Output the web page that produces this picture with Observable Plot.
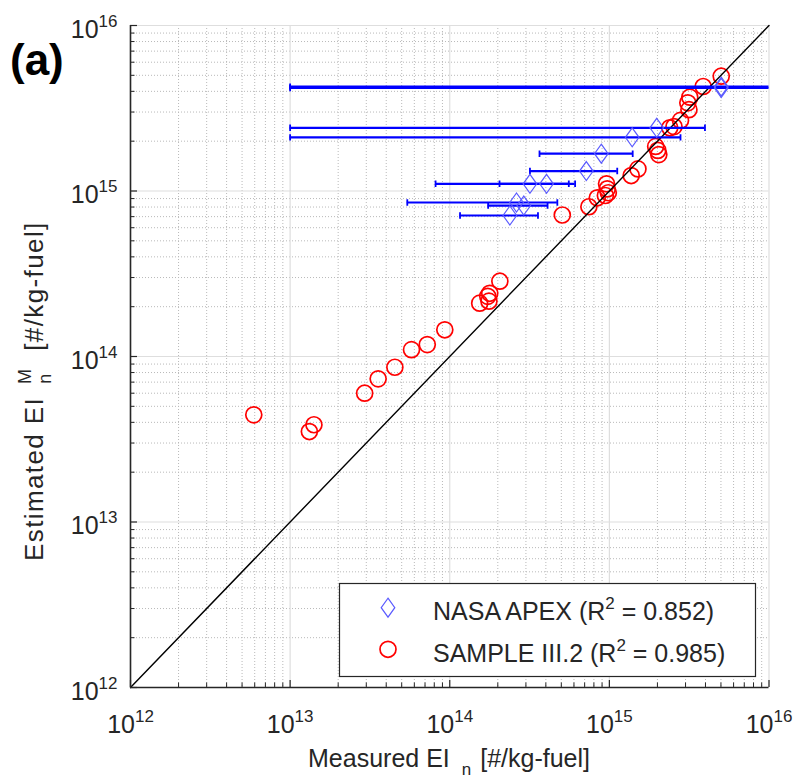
<!DOCTYPE html>
<html><head><meta charset="utf-8">
<script src="https://cdn.jsdelivr.net/npm/d3@7"></script>
<script src="https://cdn.jsdelivr.net/npm/@observablehq/plot@0.6"></script>
<style>
body{margin:0;background:#fff;}
#chart{width:798px;height:780px;}
</style></head><body><div id="chart"></div>
<script>
// ---- data ----
const sampleMeasured = [5.02e15, 3.87e15, 3.19e15, 3.10e15, 3.15e15, 2.79e15, 2.54e15, 2.39e15, 1.95e15, 2.01e15, 2.04e15, 1.51e15, 1.37e15, 9.6e14, 9.7e14, 9.85e14, 9.44e14, 8.4e14, 7.44e14, 5.07e14, 2.06e14, 1.78e14, 1.73e14, 1.76e14, 1.54e14, 9.31e13, 7.23e13, 5.76e13, 4.53e13, 3.56e13, 2.93e13, 5.92e12, 1.41e13, 1.32e13];
const sampleEstimated = [4.94e15, 4.28e15, 3.69e15, 3.41e15, 3.10e15, 2.67e15, 2.45e15, 2.41e15, 1.86e15, 1.76e15, 1.66e15, 1.36e15, 1.24e15, 1.105e15, 1.03e15, 9.76e14, 9.39e14, 9.1e14, 8.03e14, 7.16e14, 2.85e14, 2.41e14, 2.31e14, 2.16e14, 2.10e14, 1.45e14, 1.18e14, 1.10e14, 8.61e13, 7.33e13, 6.0e13, 4.44e13, 3.87e13, 3.52e13];
const apexMeasured = [5.02e15, 5.02e15, 1.98e15, 1.39e15, 8.9e14, 7.17e14, 3.18e14, 4.04e14, 2.62e14, 2.91e14, 2.38e14];
const apexEstimated = [4.27e15, 4.19e15, 2.41e15, 2.11e15, 1.68e15, 1.32e15, 1.105e15, 1.105e15, 8.52e14, 8.17e14, 7.11e14];
const apexLow = [1e13, 1e13, 1e13, 1e13, 3.65e14, 3.18e14, 8.15e13, 2.05e14, 5.42e13, 1.74e14, 1.16e14];
const apexHigh = [3e16, 3e16, 3.97e15, 2.79e15, 1.40e15, 1.12e15, 5.57e14, 6.1e14, 4.72e14, 4.10e14, 3.57e14];
const tickExponents = [12, 13, 14, 15, 16];
const identityLine = [1e12, 1e16];
const seriesNames = ["NASA APEX", "SAMPLE III.2"];
const seriesR2 = ["0.852", "0.985"];
const xTitle = ["Measured EI", "n", " [#/kg-fuel]"];
const yTitle = ["Estimated EI", "n", "M", " [#/kg-fuel]"];
const panelLabel = "(a)";

// ---- derived tables ----
const majorTicks = tickExponents.map(e => Math.pow(10, e));
const minorTicks = [];
for (const e of tickExponents.slice(0, -1)) for (let m = 2; m <= 9; m++) minorTicks.push(m * Math.pow(10, e));
const sample = sampleMeasured.map((x, i) => ({x, y: sampleEstimated[i]}));
const apex = apexMeasured.map((x, i) => ({x, y: apexEstimated[i], lo: apexLow[i], hi: apexHigh[i]}));
const caps = apex.flatMap(d => [{x: d.lo, y: d.y}, {x: d.hi, y: d.y}]);
const diag = identityLine.map(v => ({x: v, y: v}));

const diamond = {draw(c) { c.moveTo(0, -9.5); c.lineTo(6.8, 0); c.lineTo(0, 9.5); c.lineTo(-6.8, 0); c.closePath(); }};
const capSym = {draw(c) { c.moveTo(0, -3.2); c.lineTo(0, 3.2); }};

const W = 798, H = 780, mL = 130, mR = 29.5, mT = 25, mB = 93;
const fw = W - mL - mR, fh = H - mT - mB;
const dark = "#262626";

const chart = Plot.plot({
  width: W, height: H,
  marginLeft: mL, marginRight: mR, marginTop: mT, marginBottom: mB,
  style: {fontFamily: '"Liberation Sans", Arial, Helvetica, sans-serif', color: dark, background: "white", overflow: "visible"},
  x: {type: "log", domain: [1e12, 1e16], label: null},
  y: {type: "log", domain: [1e12, 1e16], label: null},
  marks: [
    Plot.ruleX(minorTicks, {stroke: "#b9b9b9", strokeDasharray: "1,2", strokeWidth: 1}),
    Plot.ruleY(minorTicks, {stroke: "#b9b9b9", strokeDasharray: "1,2", strokeWidth: 1}),
    Plot.ruleX(majorTicks, {stroke: "#dedede", strokeWidth: 1.2}),
    Plot.ruleY(majorTicks, {stroke: "#dedede", strokeWidth: 1.2}),
    Plot.dot(sample, {x: "x", y: "y", r: 8, stroke: "#ff0000", strokeWidth: 1.7, fill: "none"}),
    Plot.line(diag, {x: "x", y: "y", stroke: "#000000", strokeWidth: 1.4}),
    Plot.ruleY(apex, {y: "y", x1: "lo", x2: "hi", stroke: "#0000ff", strokeWidth: 2.2, clip: true}),
    Plot.dot(caps, {x: "x", y: "y", symbol: capSym, stroke: "#0000ff", strokeWidth: 1.8, clip: true}),
    Plot.dot(apex, {x: "x", y: "y", symbol: diamond, stroke: "#5a5aff", strokeWidth: 1.2, fill: "none"}),
    // axes lines and inward ticks
    Plot.ruleX(majorTicks, {insetTop: fh - 7, stroke: dark, strokeWidth: 1.2}),
    Plot.ruleX(minorTicks, {insetTop: fh - 4.5, stroke: dark, strokeWidth: 1}),
    Plot.ruleY(majorTicks, {insetRight: fw - 7, stroke: dark, strokeWidth: 1.2}),
    Plot.ruleY(minorTicks, {insetRight: fw - 4.5, stroke: dark, strokeWidth: 1}),
    Plot.ruleX([1e12], {stroke: dark, strokeWidth: 1.6}),
    Plot.ruleY([1e12], {stroke: dark, strokeWidth: 1.6}),
    Plot.axisX(majorTicks, {tickSize: 0, tickPadding: 28, fontSize: 25, tickFormat: d => String(Math.round(Math.log10(d)))}),
    Plot.axisY(majorTicks, {tickSize: 0, tickPadding: 13, dy: 4, fontSize: 25, tickFormat: d => String(Math.round(Math.log10(d)))})
  ]
});
document.getElementById("chart").append(chart);
const svg = d3.select(chart);

// superscripted tick labels 10^k
svg.selectAll('g[aria-label="x-axis tick label"] text, g[aria-label="y-axis tick label"] text').each(function() {
  const t = d3.select(this); const e = this.textContent; t.text(null);
  t.append("tspan").text("10");
  t.append("tspan").attr("font-size", 17).attr("dy", -11).text(e);
});

// axis titles
const xt = svg.append("text").attr("x", 449).attr("y", 767).attr("text-anchor", "middle")
  .attr("font-size", 25).attr("fill", dark);
xt.append("tspan").text(xTitle[0]);
xt.append("tspan").attr("font-size", 17).attr("dx", 12).attr("dy", 8).text(xTitle[1]);
xt.append("tspan").attr("dx", 2).attr("dy", -8).text(xTitle[2]);

const yt = svg.append("text").attr("transform", "translate(43,561) rotate(-90)").attr("text-anchor", "start")
  .attr("font-size", 26).attr("letter-spacing", 1.4).attr("fill", dark);
yt.append("tspan").text(yTitle[0]);
yt.append("tspan").attr("font-size", 18).attr("dx", 13).attr("dy", 8).text(yTitle[1]);
yt.append("tspan").attr("font-size", 18).attr("dx", -11.5).attr("dy", -20).text(yTitle[2]);
yt.append("tspan").attr("dx", 8).attr("dy", 12).text(yTitle[3]);

// panel label
svg.append("text").attr("x", 10).attr("y", 75).attr("text-anchor", "start").attr("font-size", 44).attr("font-weight", "bold")
  .attr("fill", "#000").text(panelLabel);

// legend
const lg = svg.append("g").attr("text-anchor", "start");
lg.append("rect").attr("x", 339.5).attr("y", 583.5).attr("width", 416).attr("height", 93)
  .attr("fill", "white").attr("stroke", dark).attr("stroke-width", 1.2);
lg.append("path").attr("transform", "translate(388,607.7)").attr("d", d3.symbol(diamond)())
  .attr("fill", "none").attr("stroke", "#5a5aff").attr("stroke-width", 1.2);
lg.append("circle").attr("cx", 388).attr("cy", 649.3).attr("r", 8)
  .attr("fill", "none").attr("stroke", "#ff0000").attr("stroke-width", 1.7);
seriesNames.forEach((name, i) => {
  const t = lg.append("text").attr("x", 433).attr("y", i ? 661.5 : 620).attr("font-size", 25).attr("fill", dark);
  t.append("tspan").text(name + " (R");
  t.append("tspan").attr("font-size", 17).attr("dy", -11).text("2");
  t.append("tspan").attr("dy", 11).text(" = " + seriesR2[i] + ")");
});
</script></body></html>
